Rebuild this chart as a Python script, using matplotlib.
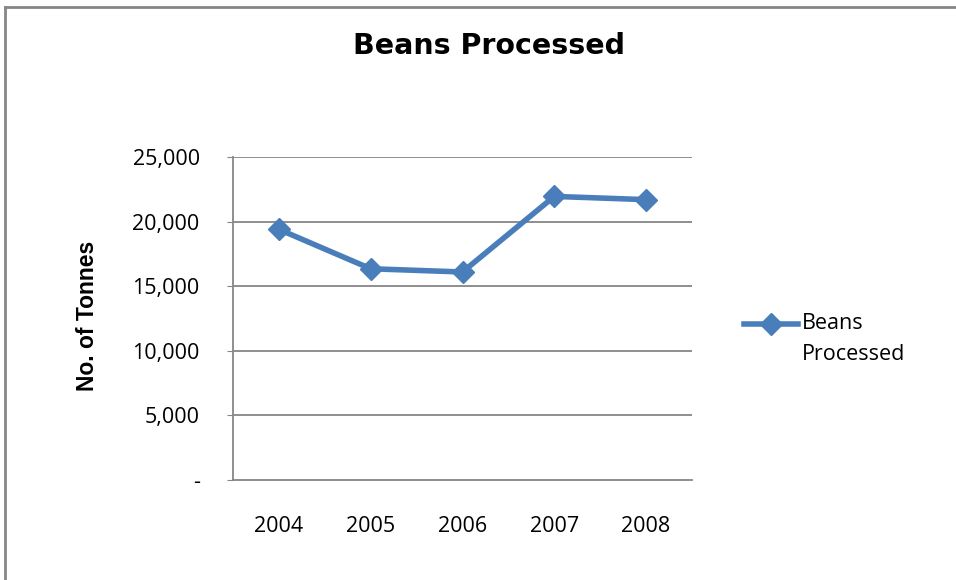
import matplotlib
matplotlib.use("Agg")
import matplotlib.pyplot as plt
from matplotlib.lines import Line2D
from matplotlib.ticker import FuncFormatter

years = ["2004", "2005", "2006", "2007", "2008"]
beans_processed = [19400, 16350, 16100, 21950, 21700]
series_name = "Beans\nProcessed"
title = "Beans Processed"
y_label = "No. of Tonnes"
y_ticks = [0, 5000, 10000, 15000, 20000, 25000]

W, H = 956, 580
fig = plt.figure(figsize=(W / 100, H / 100), dpi=100)
fig.patch.set_facecolor("white")

def fx(px):
    return px / W

def fy(py):
    return 1 - py / H

ax = fig.add_axes([fx(233), fy(480), fx(692) - fx(233), fy(157) - fy(480)])

color = "#4a7ebb"
grid_c = "#868686"
x = list(range(len(years)))
ax.plot(x, beans_processed, color=color, lw=4, marker="D", markersize=11,
        markerfacecolor=color, markeredgecolor=color, solid_joinstyle="round",
        zorder=3)

ax.set_xlim(-0.5, len(years) - 0.5)
ax.set_ylim(0, 25000)
ax.set_yticks(y_ticks)
ax.yaxis.set_major_formatter(FuncFormatter(lambda v, p: "-" if v == 0 else f"{int(v):,}"))
ax.set_xticks(x)
ax.set_xticklabels(years)

for v in y_ticks[1:]:
    ax.axhline(v, color=grid_c, lw=1.3, zorder=1)

for s in ["top", "right"]:
    ax.spines[s].set_visible(False)
ax.spines["left"].set_color(grid_c)
ax.spines["bottom"].set_color(grid_c)
ax.spines["left"].set_linewidth(1.3)
ax.spines["bottom"].set_linewidth(1.3)

tick_font = "Open Sans"
fs = 15.5
ax.tick_params(axis="y", length=4, color=grid_c, pad=20, labelsize=fs)
ax.tick_params(axis="x", length=0, pad=26, labelsize=fs)
for lab in ax.get_xticklabels() + ax.get_yticklabels():
    lab.set_fontfamily(tick_font)

fig.text(fx(489), fy(46), title, ha="center", va="center", fontsize=20.5,
         fontweight="bold", family="DejaVu Sans")
fig.text(fx(88), fy(316), y_label, ha="center", va="center", rotation=90,
         fontsize=16.5, fontweight="bold", family="Liberation Sans")

# legend
fig.add_artist(Line2D([fx(744), fx(798)], [fy(324), fy(324)], color=color, lw=4,
                      transform=fig.transFigure))
fig.add_artist(Line2D([fx(771)], [fy(324)], color=color, marker="D", markersize=11,
                      transform=fig.transFigure))
fig.text(fx(802), fy(339), series_name, ha="left", va="center", fontsize=fs,
         family=tick_font, linespacing=1.6)

# outer frame (top and left edges visible)
fig.add_artist(Line2D([fx(5), fx(956)], [fy(7), fy(7)], color=grid_c, lw=2,
                      transform=fig.transFigure))
fig.add_artist(Line2D([fx(5), fx(5)], [fy(7), fy(580)], color=grid_c, lw=2,
                      transform=fig.transFigure))

fig.savefig("out.png", dpi=100, facecolor="white")
